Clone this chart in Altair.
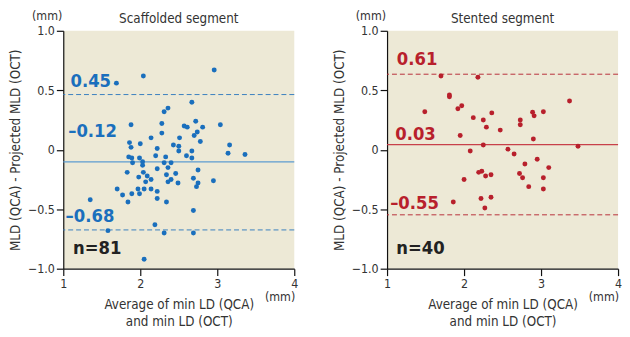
import altair as alt
import pandas as pd

FONT = "'DejaVu Sans Condensed', 'Liberation Sans Narrow', Roboto, sans-serif"

# Scaffolded segment
scaf_x = [1.35, 1.69, 2.04, 2.96, 2.67, 2.36, 2.31, 1.88, 2.28, 2.57, 2.61, 2.72, 2.81, 3.04, 2.74, 2.70,
          2.28, 2.14, 2.51, 2.78, 1.86, 2.00, 1.88, 2.22, 2.43, 2.50, 2.50, 3.16, 3.14, 3.36, 2.60, 2.67,
          2.67, 2.20, 2.33, 1.85, 1.89, 1.99, 1.90, 2.03, 2.03, 2.31, 2.40, 2.36, 1.83, 2.22, 2.04, 2.09,
          1.98, 2.34, 2.46, 2.75, 2.40, 2.36, 2.14, 2.07, 2.49, 2.69, 2.75, 2.73, 2.95, 1.70, 2.14, 1.97,
          2.05, 1.99, 1.89, 1.77, 2.22, 1.84, 2.22, 2.34, 2.69, 2.19, 1.58, 2.31, 2.69, 2.05]
scaf_y = [-0.42, 0.56, 0.62, 0.67, 0.40, 0.35, 0.32, 0.21, 0.22, 0.20, 0.19, 0.24, 0.19, 0.21, 0.15, 0.12,
          0.14, 0.10, 0.10, 0.07, 0.06, 0.05, 0.02, 0.01, 0.04, 0.03, -0.01, 0.04, -0.03, -0.04, -0.05, -0.01,
          -0.07, -0.05, -0.06, -0.06, -0.07, -0.07, -0.11, -0.10, -0.13, -0.11, -0.11, -0.15, -0.19, -0.16, -0.19, -0.22,
          -0.23, -0.21, -0.20, -0.17, -0.25, -0.27, -0.25, -0.27, -0.28, -0.24, -0.28, -0.31, -0.26, -0.33, -0.33, -0.33,
          -0.33, -0.37, -0.37, -0.38, -0.35, -0.44, -0.41, -0.44, -0.51, -0.63, -0.68, -0.70, -0.70, -0.92]

# Stented segment
stent_x = [1.49, 1.70, 1.81, 1.81, 1.92, 1.97, 1.95, 1.86, 2.00, 2.08, 2.12, 2.18, 2.19, 2.23, 2.22, 2.25,
           2.29, 2.25, 2.28, 2.27, 2.35, 2.35, 2.36, 2.47, 2.57, 2.65, 2.72, 2.73, 2.73, 2.76, 2.79, 2.84,
           2.89, 2.91, 2.90, 2.95, 3.03, 3.03, 3.03, 3.10, 3.37, 3.48]
stent_y = [0.32, 0.62, 0.46, 0.445, 0.345, 0.37, 0.12, -0.44, -0.25, -0.01, 0.27, 0.61, -0.19, -0.18, -0.41, 0.25,
           0.19, 0.04, -0.22, -0.49, -0.21, -0.40, 0.31, 0.165, 0.005, -0.035, -0.20, 0.25, 0.21, -0.235, -0.12, -0.31,
           0.315, 0.285, 0.09, -0.08, 0.32, -0.235, -0.33, -0.15, 0.41, 0.03]

# Limits of agreement lines as drawn: upper, mean, lower
scaf_lines = [0.464, -0.102, -0.674]
stent_lines = [0.635, 0.044, -0.547]

scaf_label_text = ["0.45", "\u20130.12", "\u20130.68", "n=81"]
scaf_label_x = [1.094, 1.064, 1.03, 1.127]
scaf_label_y = [0.58, 0.16, -0.56, -0.83]
stent_label_text = ["0.61", "0.03", "\u20130.55", "n=40"]
stent_label_x = [1.127, 1.106, 1.04, 1.12]
stent_label_y = [0.76, 0.135, -0.45, -0.83]

x_ticks = [1, 2, 3, 4]
y_ticks = [-1.0, -0.5, 0, 0.5, 1.0]


def panel(xs, ys, lines, lt, lx, ly, color, mean_color, dash_color, title):
    xsc = alt.Scale(domain=[1, 4], nice=False, zero=False)
    ysc = alt.Scale(domain=[-1, 1], nice=False, zero=False)
    xax = alt.Axis(values=x_ticks, title=["Average of min LD (QCA)", "and min LD (OCT)"],
                   grid=False, format="d", labelFlush=False)
    yax = alt.Axis(values=y_ticks, title="MLD (QCA) - Projected MLD (OCT)", grid=False,
                   labelExpr="datum.value == 0 ? '0' : replace(format(datum.value, '.1f'), '-', '\u2013')")
    pts = pd.DataFrame({"x": xs, "y": ys})
    points = alt.Chart(pts).mark_circle(size=25, color=color, opacity=1).encode(
        x=alt.X("x:Q", scale=xsc, axis=xax),
        y=alt.Y("y:Q", scale=ysc, axis=yax),
    )
    lim = alt.Chart(pd.DataFrame({"y": [lines[0], lines[2]]})).mark_rule(
        color=dash_color, strokeDash=[5, 3], strokeWidth=1).encode(y="y:Q")
    mean = alt.Chart(pd.DataFrame({"y": [lines[1]]})).mark_rule(
        color=mean_color, strokeWidth=1.3).encode(y="y:Q")
    lab = pd.DataFrame({"x": lx, "y": ly, "t": lt, "c": [color, color, color, "#222222"]})
    labels = alt.Chart(lab).mark_text(align="left", baseline="middle", font=FONT, fontSize=18.5,
                                      fontWeight="bold").encode(
        x="x:Q", y="y:Q", text="t:N", color=alt.Color("c:N", scale=None))
    mm_top = alt.Chart(pd.DataFrame({"x": [1], "y": [1], "t": ["(mm)"]})).mark_text(
        align="right", baseline="middle", dx=-1, dy=-15, font=FONT, fontSize=12.5, color="#333333").encode(
        x="x:Q", y="y:Q", text="t:N")
    mm_bot = alt.Chart(pd.DataFrame({"x": [4], "y": [-1], "t": ["(mm)"]})).mark_text(
        align="right", baseline="middle", dx=1, dy=29, font=FONT, fontSize=12.5, color="#333333").encode(
        x="x:Q", y="y:Q", text="t:N")
    ttl = alt.Chart(pd.DataFrame({"x": [2.5], "y": [1], "t": [title]})).mark_text(
        align="center", baseline="middle", dy=-12, font=FONT, fontSize=13.5, color="#333333").encode(
        x="x:Q", y="y:Q", text="t:N")
    return alt.layer(lim, mean, points, labels, mm_top, mm_bot, ttl).properties(
        width=234, height=241,
    )


left = panel(scaf_x, scaf_y, scaf_lines, scaf_label_text, scaf_label_x, scaf_label_y,
             "#1a6fbd", "#5d9bd0", "#3a7fbf", "Scaffolded segment")
right = panel(stent_x, stent_y, stent_lines, stent_label_text, stent_label_x, stent_label_y,
              "#b8202c", "#c8404a", "#b8303a", "Stented segment")

chart = alt.hconcat(left, right, spacing=34).properties(
    padding={"left": 0, "top": 0, "right": 0, "bottom": 0}
).configure_view(stroke=None, fill="#ede9d6").configure_axis(
    domainColor="#111111", tickColor="#111111", tickSize=7, domainWidth=1.2, tickWidth=1.2,
    labelFont=FONT, labelFontSize=12.5, labelColor="#333333", labelPadding=2,
    titleFont=FONT, titleFontSize=13.5, titleFontWeight="normal", titleColor="#333333",
    titleLineHeight=17,
).configure_axisY(titlePadding=5).configure_axisX(titlePadding=8)

chart.save("out.html", embed_options={"renderer": "svg", "actions": False})
